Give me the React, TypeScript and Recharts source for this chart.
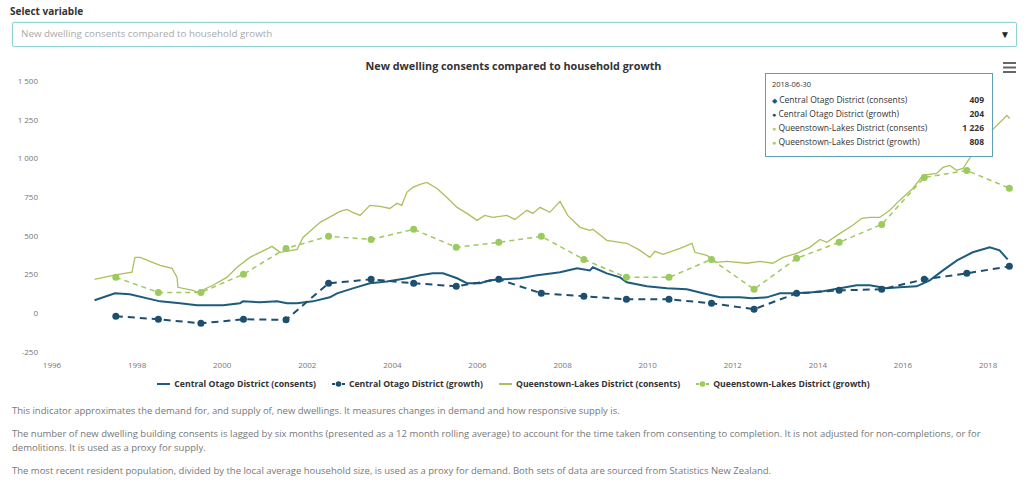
import { LineChart, Line, XAxis, YAxis } from 'recharts';

const yearTicks = [1996, 1998, 2000, 2002, 2004, 2006, 2008, 2010, 2012, 2014, 2016, 2018];
const valueTicks = [-250, 0, 250, 500, 750, 1000, 1250, 1500];

// [year, dwellings]
const coConsents = [
  [1997.0, 84], [1997.48, 129], [1997.83, 123], [1998.54, 77], [1999.01, 65], [1999.41, 52], [2000.02, 52],
  [2000.42, 65], [2000.49, 77], [2000.89, 71], [2001.29, 77], [2001.52, 65], [2001.76, 65], [2002.13, 77],
  [2002.53, 103], [2002.7, 129], [2003.07, 161], [2003.47, 194], [2003.87, 206], [2004.34, 226], [2004.65, 245],
  [2004.95, 258], [2005.19, 258], [2005.52, 226], [2005.75, 194], [2006.06, 194], [2006.29, 213], [2006.6, 219],
  [2007.0, 226], [2007.4, 245], [2007.77, 258], [2007.94, 265], [2008.34, 290], [2008.64, 277], [2008.71, 297],
  [2009.04, 258], [2009.35, 232], [2009.51, 200], [2009.98, 174], [2010.45, 161], [2010.92, 155], [2011.3, 129],
  [2011.7, 103], [2012.17, 103], [2012.45, 97], [2012.8, 103], [2013.11, 129], [2013.41, 129], [2013.81, 135],
  [2014.12, 142], [2014.52, 161], [2014.91, 181], [2015.22, 181], [2015.62, 161], [2015.92, 168], [2016.32, 174],
  [2016.63, 213], [2016.94, 277], [2017.27, 342], [2017.64, 394], [2018.04, 426], [2018.27, 406], [2018.46, 348],
];

const qlConsents = [
  [1997.0, 219], [1997.43, 245], [1997.88, 265], [1997.95, 361], [1998.07, 361], [1998.54, 310], [1998.82, 290],
  [1998.94, 232], [1998.96, 168], [1999.31, 148], [1999.43, 135], [1999.78, 181], [2000.11, 232], [2000.35, 297],
  [2000.65, 361], [2001.08, 419], [2001.17, 432], [2001.36, 394], [2001.76, 413], [2001.9, 490], [2002.3, 587],
  [2002.6, 632], [2002.77, 658], [2002.93, 671], [2003.07, 652], [2003.24, 632], [2003.47, 697], [2003.71, 690],
  [2003.94, 677], [2004.11, 710], [2004.22, 697], [2004.34, 781], [2004.48, 813], [2004.65, 832], [2004.81, 845],
  [2005.05, 806], [2005.28, 748], [2005.52, 684], [2005.75, 645], [2005.99, 600], [2006.17, 632], [2006.36, 619],
  [2006.69, 632], [2006.88, 606], [2007.16, 665], [2007.3, 645], [2007.47, 684], [2007.7, 652], [2007.94, 723],
  [2008.12, 632], [2008.41, 555], [2008.64, 535], [2008.71, 542], [2009.04, 471], [2009.35, 458], [2009.51, 452],
  [2009.82, 406], [2010.05, 361], [2010.17, 400], [2010.36, 381], [2010.76, 419], [2011.04, 452], [2011.11, 394],
  [2011.39, 374], [2011.62, 329], [2011.86, 335], [2012.33, 323], [2012.64, 335], [2012.94, 323], [2013.18, 361],
  [2013.5, 387], [2013.81, 426], [2014.05, 477], [2014.21, 458], [2014.52, 516], [2014.82, 568], [2015.03, 613],
  [2015.22, 619], [2015.45, 619], [2015.69, 665], [2015.92, 729], [2016.23, 806], [2016.47, 890], [2016.79, 903],
  [2016.94, 942], [2017.1, 955], [2017.26, 923], [2017.41, 935], [2017.64, 1032], [2018.04, 1168], [2018.44, 1277],
  [2018.51, 1258],
];

const growthYears = [1997.5, 1998.5, 1999.5, 2000.5, 2001.5, 2002.5, 2003.5, 2004.5, 2005.5, 2006.5, 2007.5,
  2008.5, 2009.5, 2010.5, 2011.5, 2012.5, 2013.5, 2014.5, 2015.5, 2016.5, 2017.5, 2018.5];
const coGrowth = [-19, -39, -65, -39, -42, 194, 219, 194, 174, 219, 129, 110, 90, 90, 65, 26, 129, 148, 155, 219, 258, 303];
const qlGrowth = [232, 135, 135, 252, 419, 497, 477, 542, 426, 458, 497, 348, 232, 232, 348, 155, 355, 458, 574, 877, 922, 808];

const tooltipDate = '2018-06-30';
const tooltipRows = [
  { name: 'Central Otago District (consents)', value: '409', symbol: '◆', color: '#1d5c7c' },
  { name: 'Central Otago District (growth)', value: '204', symbol: '●', color: '#1d4f6e' },
  { name: 'Queenstown-Lakes District (consents)', value: '1 226', symbol: '●', color: '#b7cc6e' },
  { name: 'Queenstown-Lakes District (growth)', value: '808', symbol: '●', color: '#a3cd68' },
];

const CO_LINE = '#1d5c7c', CO_DOT = '#1d4f6e', QL_LINE = '#a9c15c', QL_DOT = '#9dca5e';

const toPoints = (pairs: number[][]) => pairs.map(([year, value]) => ({ year, value }));
const toGrowth = (vals: number[]) => growthYears.map((year, i) => ({ year, value: vals[i] }));

const fmt = (v: number) => {
  const s = String(Math.abs(v));
  const body = s.length > 3 ? `${s.slice(0, s.length - 3)} ${s.slice(-3)}` : s;
  return v < 0 ? `-${body}` : body;
};

const LegendItem = ({ color, dashed, label }: any) => (
  <div style={{ display: 'flex', alignItems: 'center', gap: 4 }}>
    <svg width={13} height={10}>
      <line x1={0} y1={5} x2={13} y2={5} stroke={color} strokeWidth={2} strokeDasharray={dashed ? '3 2' : undefined} />
      {dashed && <circle cx={6.5} cy={5} r={2.8} fill={color} />}
    </svg>
    <span>{label}</span>
  </div>
);

export default function App() {
  const font = '"Open Sans", "Noto Sans", sans-serif';
  return (
    <div style={{ position: 'absolute', left: 0, top: 0, width: 1027, height: 491, background: '#fff', fontFamily: font, color: '#333', overflow: 'hidden' }}>
      <div style={{ position: 'absolute', left: 10, top: 4, fontSize: 10, fontWeight: 700 }}>Select variable</div>
      <div style={{ position: 'absolute', left: 12, top: 22, width: 1003, height: 23, border: '1px solid #8fd3d3', borderRadius: 2, boxShadow: '0 0 2px #bfe8e8' }}>
        <span style={{ position: 'absolute', left: 8, top: 4, fontSize: 9.8, color: '#aaa' }}>New dwelling consents compared to household growth</span>
        <span style={{ position: 'absolute', right: 6, top: 4, fontSize: 10, color: '#222' }}>▼</span>
      </div>

      <div style={{ position: 'absolute', left: 0, width: 1027, top: 58, textAlign: 'center', fontSize: 10.8, fontWeight: 700, color: '#333' }}>
        New dwelling consents compared to household growth
      </div>
      <svg style={{ position: 'absolute', left: 1003, top: 62 }} width={14} height={12}>
        <rect x={0} y={0} width={13} height={2} fill="#666" />
        <rect x={0} y={4.5} width={13} height={2} fill="#666" />
        <rect x={0} y={9} width={13} height={2} fill="#666" />
      </svg>

      <div style={{ position: 'absolute', left: 0, top: 0 }}>
        <LineChart width={1027} height={377} margin={{ top: 81, right: 7, bottom: 0, left: 0 }}>
          <XAxis dataKey="year" type="number" domain={[1996, 2018.75]} ticks={yearTicks} allowDataOverflow
            axisLine={false} tickLine={false} tickMargin={4} height={25}
            tick={{ fill: '#777', fontSize: 8, fontFamily: font }} />
          <YAxis type="number" domain={[-250, 1500]} ticks={valueTicks} width={52} interval={0}
            axisLine={false} tickLine={false} tickMargin={8} tickFormatter={fmt}
            tick={{ fill: '#777', fontSize: 8, fontFamily: font }} />
          <Line data={toPoints(qlConsents)} dataKey="value" type="linear" stroke={QL_LINE} strokeWidth={1.3} dot={false} isAnimationActive={false} />
          <Line data={toGrowth(qlGrowth)} dataKey="value" type="linear" stroke={QL_DOT} strokeWidth={1.5} strokeDasharray="5 4"
            dot={{ r: 3.5, fill: QL_DOT, stroke: QL_DOT, strokeWidth: 0 }} isAnimationActive={false} />
          <Line data={toPoints(coConsents)} dataKey="value" type="linear" stroke={CO_LINE} strokeWidth={2} dot={false} isAnimationActive={false} />
          <Line data={toGrowth(coGrowth)} dataKey="value" type="linear" stroke={CO_DOT} strokeWidth={2} strokeDasharray="7 5"
            dot={{ r: 3.5, fill: CO_DOT, stroke: CO_DOT, strokeWidth: 0 }} isAnimationActive={false} />
        </LineChart>
      </div>

      <div style={{ position: 'absolute', left: 765, top: 73, width: 226, height: 82, border: '1px solid #5f9fb5', background: '#fff', fontSize: 8.5, color: '#333' }}>
        <div style={{ position: 'absolute', left: 6, top: 5, fontSize: 7.5 }}>{tooltipDate}</div>
        {tooltipRows.map((r, i) => (
          <div key={r.name} style={{ position: 'absolute', left: 6, right: 8, top: 20 + i * 14, display: 'flex', justifyContent: 'space-between' }}>
            <span><span style={{ color: r.color, fontSize: 7 }}>{r.symbol}</span> {r.name}</span>
            <span style={{ fontWeight: 700 }}>{r.value}</span>
          </div>
        ))}
      </div>

      <div style={{ position: 'absolute', left: 0, width: 1027, top: 378, display: 'flex', justifyContent: 'center', gap: 16, fontSize: 8.7, fontWeight: 700, color: '#333' }}>
        <LegendItem color={CO_LINE} label="Central Otago District (consents)" />
        <LegendItem color={CO_DOT} dashed label="Central Otago District (growth)" />
        <LegendItem color={QL_LINE} label="Queenstown-Lakes District (consents)" />
        <LegendItem color={QL_DOT} dashed label="Queenstown-Lakes District (growth)" />
      </div>

      <div style={{ position: 'absolute', left: 12, top: 404, width: 1005, fontSize: 9.5, color: '#777', lineHeight: '14px' }}>
        <div>This indicator approximates the demand for, and supply of, new dwellings. It measures changes in demand and how responsive supply is.</div>
        <div style={{ marginTop: 9 }}>The number of new dwelling building consents is lagged by six months (presented as a 12 month rolling average) to account for the time taken from consenting to completion. It is not adjusted for non-completions, or for demolitions. It is used as a proxy for supply.</div>
        <div style={{ marginTop: 9 }}>The most recent resident population, divided by the local average household size, is used as a proxy for demand. Both sets of data are sourced from Statistics New Zealand.</div>
      </div>
    </div>
  );
}
